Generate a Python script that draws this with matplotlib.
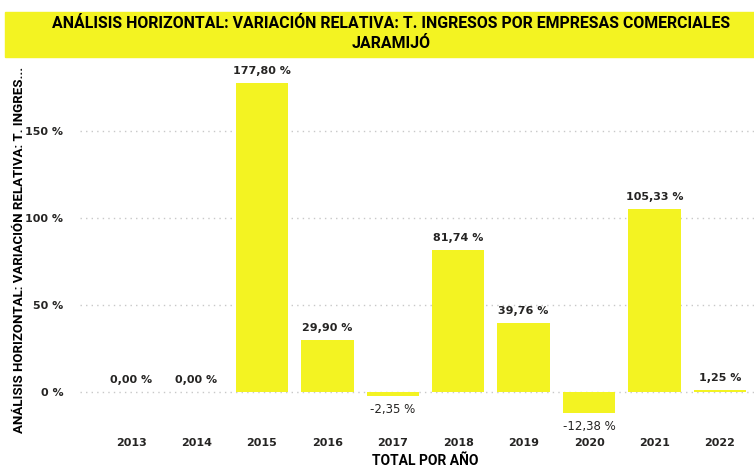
import matplotlib.pyplot as plt
from matplotlib.patches import Rectangle

years = ["2013", "2014", "2015", "2016", "2017", "2018", "2019", "2020", "2021", "2022"]
variacion = [0.00, 0.00, 177.80, 29.90, -2.35, 81.74, 39.76, -12.38, 105.33, 1.25]
yticks = [0, 50, 100, 150]

W, H = 754, 470
yellow = "#F3F322"
cond = ["Roboto", "DejaVu Sans"]
fig = plt.figure(figsize=(W / 100, H / 100), dpi=100)

# title band
fig.patches.append(Rectangle((5 / W, 1 - 57 / H), 749 / W, 45 / H,
                             transform=fig.transFigure, color=yellow, zorder=0))
fig.text(391 / W, 1 - 24 / H, "ANÁLISIS HORIZONTAL: VARIACIÓN RELATIVA: T. INGRESOS POR EMPRESAS COMERCIALES",
         ha="center", va="center", fontsize=11.4, fontweight="bold", family=cond)
fig.text(391 / W, 1 - 44 / H, "JARAMIJÓ", ha="center", va="center", fontsize=11.4,
         fontweight="bold", family=cond)

ax = fig.add_axes([80 / W, 1 - 430 / H, 674 / W, 368 / H])
x = range(len(years))
ax.bar(x, variacion, width=0.8, color=yellow, zorder=2)

for i, v in enumerate(variacion):
    lab = f"{v:.2f} %".replace(".", ",")
    if v >= 0:
        ax.annotate(lab, (i, v), xytext=(0, 5), textcoords="offset points",
                    ha="center", va="bottom", fontsize=8, fontweight="bold", color="#252423")
    else:
        ax.annotate(lab, (i, v), xytext=(0, -5), textcoords="offset points",
                    ha="center", va="top", fontsize=8.5, color="#252423")

ax.set_xlim(-0.78, 9.52)
ax.set_ylim(-22, 190)
ax.set_yticks(yticks)
ax.set_yticklabels([f"{t} %" for t in yticks], fontsize=8, fontweight="bold", color="#252423")
ax.set_xticks(list(x))
ax.set_xticklabels(years, fontsize=8, fontweight="bold", color="#252423")
ax.tick_params(length=0, pad=12)
ax.tick_params(axis="x", pad=6)
ax.grid(axis="y", linestyle=(0, (1, 3)), color="#C8C8C8", linewidth=1, zorder=0)
for s in ax.spines.values():
    s.set_visible(False)

fig.text(425 / W, 1 - 461 / H, "TOTAL POR AÑO", ha="center", va="center",
         fontsize=10, fontweight="bold", family=cond)
fig.text(20 / W, 1 - 250 / H, "ANÁLISIS HORIZONTAL: VARIACIÓN RELATIVA: T. INGRES...",
         rotation=90, ha="center", va="center", fontsize=9.5, fontweight="bold", family=cond)

fig.savefig("out.png", dpi=100)
